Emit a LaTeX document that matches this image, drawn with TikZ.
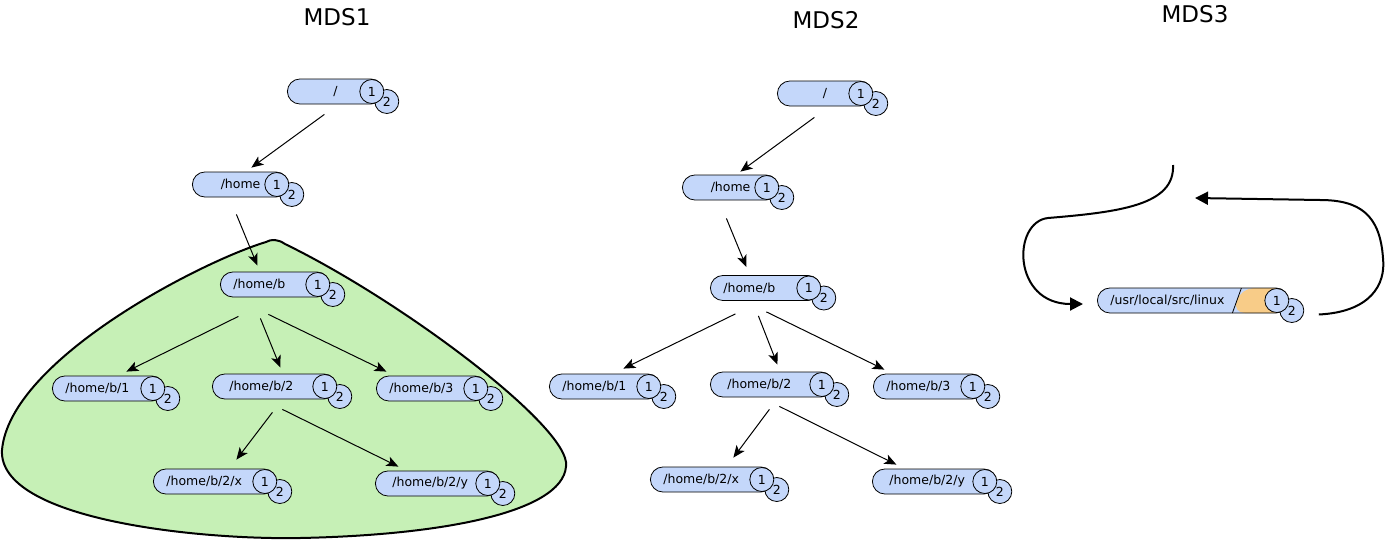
\documentclass[tikz,border=0pt]{standalone}
\usepackage{fontspec}
\setmainfont{DejaVu Sans}
\usepackage{xcolor}
\usepackage{tikz}
\definecolor{dirblue}{RGB}{196, 215, 250}
\definecolor{subtreegreen}{RGB}{198, 240, 182}
\definecolor{hotorange}{RGB}{248, 204, 136}
\usetikzlibrary{arrows.meta,positioning,calc}

\begin{document}
\begin{tikzpicture}[
    x=1pt, y=-1pt,
    dir/.style={
        rectangle,
        draw=black,
        line width=0.8pt,
        fill=dirblue,
        rounded corners=12.5pt,
        minimum height=25pt,
        inner xsep=13pt,
        inner ysep=0pt,
        text width=#1,
        align=left,
        anchor=west,
        font=\fontsize{12.5}{14}\selectfont
    },
    badge/.style={
        circle,
        draw=black,
        line width=0.8pt,
        fill=dirblue,
        minimum size=24pt,
        inner sep=0pt,
        font=\fontsize{12.5}{14}\selectfont
    },
    title/.style={font=\fontsize{23}{27}\selectfont},
    link/.style={-{Stealth[length=12pt,width=10pt,inset=3pt]}, line width=1pt},
    migrate/.style={-{Triangle[length=13pt,width=13pt]}, line width=2pt}
]
    \useasboundingbox (0,0) rectangle (1385,541);

    % Subtree owned by MDS1
    \draw[line width=2pt, fill=subtreegreen]
        (266,242) .. controls (200,262) and (10,360) .. (2,450)
        .. controls (-2,520) and (200,540) .. (300,538)
        .. controls (450,535) and (570,510) .. (566,462)
        .. controls (560,420) and (400,300) .. (285,244)
        .. controls (278,239) and (271,239) .. (266,242) -- cycle;

    % Titles
    \node[title] (mds1) at (337,17) {MDS1};
    \node[title] (mds2) at (826,20) {MDS2};
    \node[title] (mds3) at (1195,14) {MDS3};

    % MDS1 tree
    \node[dir=70pt, align=center] (a-root) at (287,91.5) {/};
    \node[dir=40pt, inner xsep=28pt, align=right] (a-home) at (192,184.5) {/home};
    \node[dir=83pt] (a-b) at (220,284.5) {/home/b};
    \node[dir=86pt] (a-b1) at (52,388.5) {/home/b/1};
    \node[dir=90pt, inner xsep=17pt] (a-b2) at (212,386.5) {/home/b/2};
    \node[dir=85pt] (a-b3) at (376,388.5) {/home/b/3};
    \node[dir=97pt] (a-x) at (153,481.5) {/home/b/2/x};
    \node[dir=90pt, inner xsep=17pt] (a-y) at (375,483.5) {/home/b/2/y};

    % MDS2 tree
    \node[dir=69pt, align=center] (b-root) at (777,93.5) {/};
    \node[dir=40pt, inner xsep=28pt, align=right] (b-home) at (682,187.5) {/home};
    \node[dir=84pt] (b-b) at (710,288) {/home/b};
    \node[dir=85pt] (b-b1) at (549,386.5) {/home/b/1};
    \node[dir=89pt, inner xsep=17pt] (b-b2) at (710,384.5) {/home/b/2};
    \node[dir=85pt] (b-b3) at (873,386.5) {/home/b/3};
    \node[dir=97pt] (b-x) at (650,479.5) {/home/b/2/x};
    \node[dir=90pt, inner xsep=17pt] (b-y) at (872,481.5) {/home/b/2/y};

    % MDS3 hot directory
    \node[dir=165pt, path picture={
        \fill[hotorange] ([xshift=144pt]path picture bounding box.north west)
            -- (path picture bounding box.north east)
            -- (path picture bounding box.south east)
            -- ([xshift=135pt]path picture bounding box.south west) -- cycle;
        \draw[line width=0.8pt] ([xshift=144pt]path picture bounding box.north west)
            -- ([xshift=135pt]path picture bounding box.south west);
    }] (linux) at (1097,300.5) {/usr/local/src/linux};

    % Replica counters
    \foreach \d in {a-root,a-home,a-b,a-b1,a-b2,a-b3,a-x,a-y,
                    b-root,b-home,b-b,b-b1,b-b2,b-b3,b-x,b-y,linux} {
        \node[badge] (\d-two) at ([xshift=3pt,yshift=-10pt]\d.east) {2};
        \node[badge] (\d-one) at ([xshift=-12pt]\d.east) {1};
    }

    % MDS1 links
    \draw[link] ([xshift=-11pt,yshift=-10pt]a-root.south) -- ([xshift=11pt,yshift=4pt]a-home.north);
    \draw[link] ([xshift=-4pt,yshift=-17pt]a-home.south) -- ([xshift=-17.5pt,yshift=6pt]a-b.north);
    \draw[link] ([xshift=-36.5pt,yshift=-19pt]a-b.south) -- ([xshift=18pt,yshift=4pt]a-b1.north);
    \draw[link] ([xshift=-14.5pt,yshift=-21pt]a-b.south) -- ([xshift=6pt,yshift=6pt]a-b2.north);
    \draw[link] ([xshift=-6.5pt,yshift=-17pt]a-b.south) -- ([xshift=-45.5pt,yshift=4pt]a-b3.north);
    \draw[link] ([xshift=-2pt,yshift=-13pt]a-b2.south) -- ([xshift=21.5pt,yshift=9pt]a-x.north);
    \draw[link] ([xshift=8pt,yshift=-10pt]a-b2.south) -- ([xshift=-39pt,yshift=4pt]a-y.north);

    % MDS2 links
    \draw[link] ([xshift=-10.5pt,yshift=-11pt]b-root.south) -- ([xshift=10pt,yshift=3pt]b-home.north);
    \draw[link] ([xshift=-4pt,yshift=-18pt]b-home.south) -- ([xshift=-19pt,yshift=8pt]b-b.north);
    \draw[link] ([xshift=-30pt,yshift=-13pt]b-b.south) -- ([xshift=18.5pt,yshift=5pt]b-b1.north);
    \draw[link] ([xshift=-7pt,yshift=-15pt]b-b.south) -- ([xshift=5.5pt,yshift=7pt]b-b2.north);
    \draw[link] ([xshift=1pt,yshift=-11pt]b-b.south) -- ([xshift=-44.5pt,yshift=4pt]b-b3.north);
    \draw[link] ([xshift=-2.5pt,yshift=-12pt]b-b2.south) -- ([xshift=21.5pt,yshift=9pt]b-x.north);
    \draw[link] ([xshift=7.5pt,yshift=-9pt]b-b2.south) -- ([xshift=-38pt,yshift=4pt]b-y.north);

    % MDS3 migration loop
    \coordinate (inflow) at (1173,165);
    \coordinate (outflow) at (1195,198);
    \draw[migrate] (inflow) .. controls (1175,205) and (1120,212) .. (1048,218)
        .. controls (1012,222) and (1012,304) .. ([xshift=-14pt,yshift=-3.5pt]linux.west);
    \draw[migrate] ([xshift=30pt,yshift=-14pt]linux.east)
        .. controls (1370,312) and (1386,285) .. (1383,258)
        .. controls (1380,215) and (1360,200) .. (1320,200) -- (outflow);
\end{tikzpicture}
\end{document}
